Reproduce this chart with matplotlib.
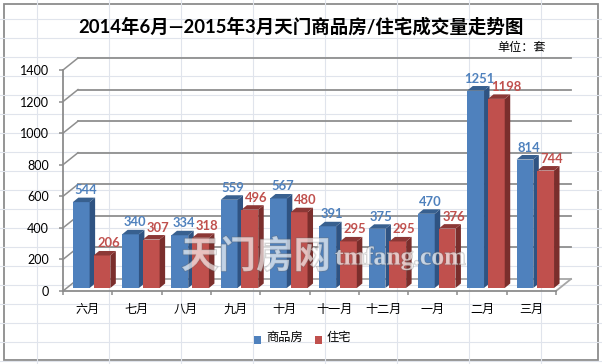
import matplotlib
matplotlib.use("Agg")
import matplotlib.pyplot as plt
from matplotlib.patches import Polygon, Rectangle
from matplotlib.transforms import Affine2D, IdentityTransform
import matplotlib.patheffects as pe

categories = ["六月", "七月", "八月", "九月", "十月", "十一月", "十二月", "一月", "二月", "三月"]
commercial = [544, 340, 334, 559, 567, 391, 375, 470, 1251, 814]
housing = [206, 307, 318, 496, 480, 295, 295, 376, 1198, 744]
series_names = ["商品房", "住宅"]
title = "2014年6月—2015年3月天门商品房/住宅成交量走势图"
unit = "单位：套"
yticks = [0, 200, 400, 600, 800, 1000, 1200, 1400]

plt.rcParams['font.family'] = ['Lato', 'Noto Sans CJK SC', 'DejaVu Sans']
W, H = 602, 364
fig = plt.figure(figsize=(W / 100, H / 100), dpi=100, facecolor='white')

# page background with sheet grid
bg = fig.add_axes([0, 0, 1, 1], zorder=0)
bg.set_xlim(0, W); bg.set_ylim(H, 0); bg.axis('off')
for x in [37, 109, 181, 253, 325, 397, 469, 541]:
    bg.plot([x, x], [0, H], color='#e0e4ec', lw=0.8)
for y in [19, 38, 57, 76, 95, 114, 133, 152, 171, 190, 209, 228, 247, 266, 285, 304, 323, 342, 361]:
    bg.plot([0, W], [y, y], color='#e0e4ec', lw=0.8)
bg.add_patch(Rectangle((3.5, 3.5), 594.5, 356.5, fc='white', ec='#8c8c8c', lw=1.3))

# front plane of the plot box
L, R, T, B = 63, 556, 70, 291
ax = fig.add_axes([L / W, 1 - B / H, (R - L) / W, (B - T) / H], zorder=1)
ax.set_xlim(0, 10); ax.set_ylim(0, 1400)
ax.patch.set_alpha(0)
for s in ['top', 'right']:
    ax.spines[s].set_visible(False)
for s in ['left', 'bottom']:
    ax.spines[s].set_color('#8c8c8c'); ax.spines[s].set_linewidth(1.3)
ax.set_xticks(range(11)); ax.set_xticklabels([])
ax.set_yticks(yticks)
ax.tick_params(axis='both', color='#8c8c8c', width=1.1, length=2.8, direction='out')
ax.tick_params(axis='y', labelsize=9.0, pad=7.2)
for i, c in enumerate(categories):
    ax.text(i + 0.5, -117, c, ha='center', va='center', fontsize=8.7, color='black',
            clip_on=False)

def px(dx, dy):
    # shift in screen pixels (dy upwards)
    return Affine2D().translate(dx, dy)

base = ax.transData
SCREEN = IdentityTransform()
DX, DY = 15, 12
back = base + px(DX, DY)
grey = '#8f8f8f'
for t in yticks:
    ax.plot([0, 10], [t, t], transform=back, color=grey if t else '#a6a6a6', lw=1.3, clip_on=False, zorder=1)
    # diagonal from front-left to back-left
    p0 = base.transform((0, t))
    ax.add_line(plt.Line2D([p0[0], p0[0] + DX], [p0[1], p0[1] + DY], transform=SCREEN,
                           color=grey, lw=1.1, zorder=1, clip_on=False))
# floor right edge
p0 = base.transform((10, 0))
ax.add_line(plt.Line2D([p0[0], p0[0] + DX], [p0[1], p0[1] + DY], transform=SCREEN,
                       color='#a6a6a6', lw=1.3, zorder=1, clip_on=False))
ax.set_xlim(0, 10); ax.set_ylim(0, 1400)

def bar3d(x0, x1, v, front, side, top, label_color, z, left_label):
    ox, oy = 0, 3  # bars stand a little behind the front plane
    dx, dy = 5.5, 4.5
    t = base + px(ox, oy)
    a = t.transform((x0, 0)); b = t.transform((x1, v))
    ax.add_patch(Rectangle((a[0], a[1]), b[0] - a[0], b[1] - a[1], transform=SCREEN, fc=front,
                           ec='none', zorder=z, clip_on=False))
    ax.add_patch(Polygon([(b[0], a[1]), (b[0] + dx, a[1] + dy), (b[0] + dx, b[1] + dy), (b[0], b[1])],
                         transform=SCREEN, fc=side, ec='none', zorder=z, clip_on=False))
    ax.add_patch(Polygon([(a[0], b[1]), (b[0], b[1]), (b[0] + dx, b[1] + dy), (a[0] + dx, b[1] + dy)],
                         transform=SCREEN, fc=top, ec='none', zorder=z, clip_on=False))
    if left_label:
        lx, ha = a[0] + 3.5, 'left'
    else:
        lx, ha = (a[0] + b[0]) / 2 + 4, 'center'
    ax.text(lx, b[1] + 12, str(v), transform=SCREEN, ha=ha, va='center',
            fontsize=9.4, fontweight='bold', color=label_color, zorder=20, clip_on=False)

for i, (a, b) in enumerate(zip(commercial, housing)):
    bar3d(i + 0.20, i + 0.54, a, '#4f81bd', '#2f5382', '#38608f', '#4f81bd', 5, False)
    bar3d(i + 0.62, i + 0.96, b, '#c0504d', '#7a2e2c', '#8c3836', '#c0504d', 6, True)

# overlay for text in pixel coordinates
fg = fig.add_axes([0, 0, 1, 1], zorder=5)
fg.set_xlim(0, W); fg.set_ylim(H, 0); fg.axis('off')
fg.text(301, 26, title, ha='center', va='center', fontsize=13.3, fontweight='bold', color='black')
fg.text(522, 47, unit, ha='center', va='center', fontsize=8.7, color='black')
fg.add_patch(Rectangle((254, 336), 7, 7.5, fc='#4f81bd', ec='none'))
fg.text(266, 337.5, series_names[0], ha='left', va='center', fontsize=8.8)
fg.add_patch(Rectangle((315, 336), 7, 7.5, fc='#c0504d', ec='none'))
fg.text(327, 337.5, series_names[1], ha='left', va='center', fontsize=8.8)

# watermark
fx = [pe.withStroke(linewidth=1.2, foreground='#666666', alpha=0.3)]
fg.text(181, 256, "天门房网", ha='left', va='center', fontsize=27, fontweight='bold', color='white',
        alpha=0.5, path_effects=fx)
fg.text(335, 258, "tmfang.com", ha='left', va='center', fontsize=18.5, fontweight='bold', family='Liberation Serif',
        color='white', alpha=0.55, path_effects=fx)

fig.savefig('out.png', dpi=100)
